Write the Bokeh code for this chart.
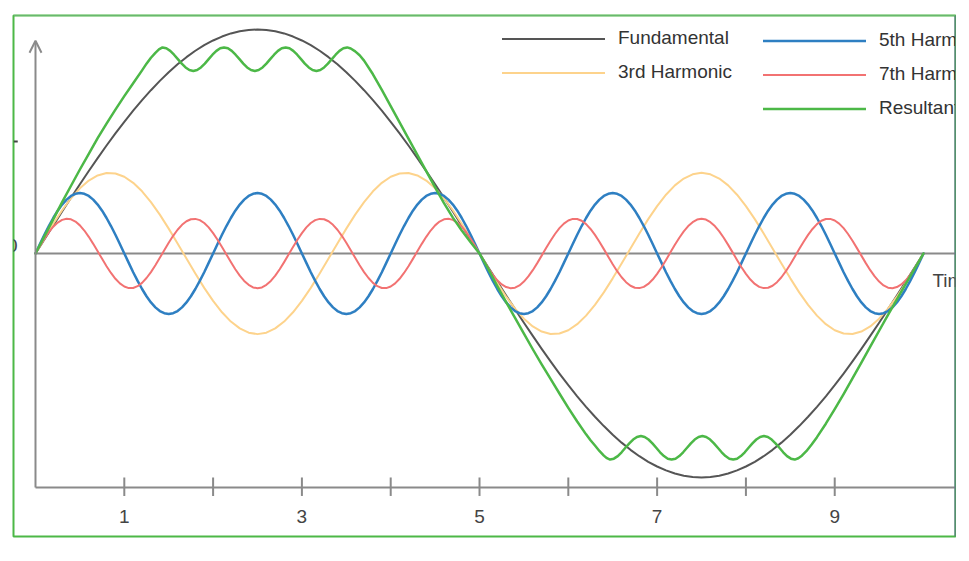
from bokeh.plotting import figure
from bokeh.models import Range1d, Legend, LegendItem, Arrow, OpenHead, Span
from bokeh.core.properties import value
from bokeh.embed import file_html
from bokeh.resources import INLINE

# ---------------- data ----------------
# time axis, step 0.1 (fundamental, 3rd harmonic)
TIME = [
    0.0, 0.1, 0.2, 0.3, 0.4, 0.5, 0.6, 0.7, 0.8, 0.9,
    1.0, 1.1, 1.2, 1.3, 1.4, 1.5, 1.6, 1.7, 1.8, 1.9,
    2.0, 2.1, 2.2, 2.3, 2.4, 2.5, 2.6, 2.7, 2.8, 2.9,
    3.0, 3.1, 3.2, 3.3, 3.4, 3.5, 3.6, 3.7, 3.8, 3.9,
    4.0, 4.1, 4.2, 4.3, 4.4, 4.5, 4.6, 4.7, 4.8, 4.9,
    5.0, 5.1, 5.2, 5.3, 5.4, 5.5, 5.6, 5.7, 5.8, 5.9,
    6.0, 6.1, 6.2, 6.3, 6.4, 6.5, 6.6, 6.7, 6.8, 6.9,
    7.0, 7.1, 7.2, 7.3, 7.4, 7.5, 7.6, 7.7, 7.8, 7.9,
    8.0, 8.1, 8.2, 8.3, 8.4, 8.5, 8.6, 8.7, 8.8, 8.9,
    9.0, 9.1, 9.2, 9.3, 9.4, 9.5, 9.6, 9.7, 9.8, 9.9,
    10.0,
]

FUNDAMENTAL = [
    0.000, 0.126, 0.251, 0.375, 0.497, 0.618, 0.736, 0.852, 0.964, 1.072,
    1.176, 1.275, 1.369, 1.458, 1.541, 1.618, 1.689, 1.753, 1.810, 1.860,
    1.902, 1.937, 1.965, 1.984, 1.996, 2.000, 1.996, 1.984, 1.965, 1.937,
    1.902, 1.860, 1.810, 1.753, 1.689, 1.618, 1.541, 1.458, 1.369, 1.275,
    1.176, 1.072, 0.964, 0.852, 0.736, 0.618, 0.497, 0.375, 0.251, 0.126,
    0.000, -0.126, -0.251, -0.375, -0.497, -0.618, -0.736, -0.852, -0.964, -1.072,
    -1.176, -1.275, -1.369, -1.458, -1.541, -1.618, -1.689, -1.753, -1.810, -1.860,
    -1.902, -1.937, -1.965, -1.984, -1.996, -2.000, -1.996, -1.984, -1.965, -1.937,
    -1.902, -1.860, -1.810, -1.753, -1.689, -1.618, -1.541, -1.458, -1.369, -1.275,
    -1.176, -1.072, -0.964, -0.852, -0.736, -0.618, -0.497, -0.375, -0.251, -0.126,
    0.000,
]

HARMONIC_3 = [
    0.000, 0.135, 0.265, 0.386, 0.493, 0.582, 0.651, 0.697, 0.719, 0.714,
    0.685, 0.631, 0.555, 0.459, 0.347, 0.222, 0.090, -0.045, -0.179, -0.307,
    -0.423, -0.525, -0.608, -0.669, -0.707, -0.720, -0.707, -0.669, -0.608, -0.525,
    -0.423, -0.307, -0.179, -0.045, 0.090, 0.222, 0.347, 0.459, 0.555, 0.631,
    0.685, 0.714, 0.719, 0.697, 0.651, 0.582, 0.493, 0.386, 0.265, 0.135,
    0.000, -0.135, -0.265, -0.386, -0.493, -0.582, -0.651, -0.697, -0.719, -0.714,
    -0.685, -0.631, -0.555, -0.459, -0.347, -0.222, -0.090, 0.045, 0.179, 0.307,
    0.423, 0.525, 0.608, 0.669, 0.707, 0.720, 0.707, 0.669, 0.608, 0.525,
    0.423, 0.307, 0.179, 0.045, -0.090, -0.222, -0.347, -0.459, -0.555, -0.631,
    -0.685, -0.714, -0.719, -0.697, -0.651, -0.582, -0.493, -0.386, -0.265, -0.135,
    0.000,
]

# time axis, step 0.05 (5th and 7th harmonics)
TIME_FINE = [
    0.00, 0.05, 0.10, 0.15, 0.20, 0.25, 0.30, 0.35, 0.40, 0.45,
    0.50, 0.55, 0.60, 0.65, 0.70, 0.75, 0.80, 0.85, 0.90, 0.95,
    1.00, 1.05, 1.10, 1.15, 1.20, 1.25, 1.30, 1.35, 1.40, 1.45,
    1.50, 1.55, 1.60, 1.65, 1.70, 1.75, 1.80, 1.85, 1.90, 1.95,
    2.00, 2.05, 2.10, 2.15, 2.20, 2.25, 2.30, 2.35, 2.40, 2.45,
    2.50, 2.55, 2.60, 2.65, 2.70, 2.75, 2.80, 2.85, 2.90, 2.95,
    3.00, 3.05, 3.10, 3.15, 3.20, 3.25, 3.30, 3.35, 3.40, 3.45,
    3.50, 3.55, 3.60, 3.65, 3.70, 3.75, 3.80, 3.85, 3.90, 3.95,
    4.00, 4.05, 4.10, 4.15, 4.20, 4.25, 4.30, 4.35, 4.40, 4.45,
    4.50, 4.55, 4.60, 4.65, 4.70, 4.75, 4.80, 4.85, 4.90, 4.95,
    5.00, 5.05, 5.10, 5.15, 5.20, 5.25, 5.30, 5.35, 5.40, 5.45,
    5.50, 5.55, 5.60, 5.65, 5.70, 5.75, 5.80, 5.85, 5.90, 5.95,
    6.00, 6.05, 6.10, 6.15, 6.20, 6.25, 6.30, 6.35, 6.40, 6.45,
    6.50, 6.55, 6.60, 6.65, 6.70, 6.75, 6.80, 6.85, 6.90, 6.95,
    7.00, 7.05, 7.10, 7.15, 7.20, 7.25, 7.30, 7.35, 7.40, 7.45,
    7.50, 7.55, 7.60, 7.65, 7.70, 7.75, 7.80, 7.85, 7.90, 7.95,
    8.00, 8.05, 8.10, 8.15, 8.20, 8.25, 8.30, 8.35, 8.40, 8.45,
    8.50, 8.55, 8.60, 8.65, 8.70, 8.75, 8.80, 8.85, 8.90, 8.95,
    9.00, 9.05, 9.10, 9.15, 9.20, 9.25, 9.30, 9.35, 9.40, 9.45,
    9.50, 9.55, 9.60, 9.65, 9.70, 9.75, 9.80, 9.85, 9.90, 9.95,
    10.00,
]

HARMONIC_5 = [
    0.000, 0.084, 0.167, 0.245, 0.317, 0.382, 0.437, 0.481, 0.514, 0.533,
    0.540, 0.533, 0.514, 0.481, 0.437, 0.382, 0.317, 0.245, 0.167, 0.084,
    0.000, -0.084, -0.167, -0.245, -0.317, -0.382, -0.437, -0.481, -0.514, -0.533,
    -0.540, -0.533, -0.514, -0.481, -0.437, -0.382, -0.317, -0.245, -0.167, -0.084,
    0.000, 0.084, 0.167, 0.245, 0.317, 0.382, 0.437, 0.481, 0.514, 0.533,
    0.540, 0.533, 0.514, 0.481, 0.437, 0.382, 0.317, 0.245, 0.167, 0.084,
    0.000, -0.084, -0.167, -0.245, -0.317, -0.382, -0.437, -0.481, -0.514, -0.533,
    -0.540, -0.533, -0.514, -0.481, -0.437, -0.382, -0.317, -0.245, -0.167, -0.084,
    0.000, 0.084, 0.167, 0.245, 0.317, 0.382, 0.437, 0.481, 0.514, 0.533,
    0.540, 0.533, 0.514, 0.481, 0.437, 0.382, 0.317, 0.245, 0.167, 0.084,
    0.000, -0.084, -0.167, -0.245, -0.317, -0.382, -0.437, -0.481, -0.514, -0.533,
    -0.540, -0.533, -0.514, -0.481, -0.437, -0.382, -0.317, -0.245, -0.167, -0.084,
    0.000, 0.084, 0.167, 0.245, 0.317, 0.382, 0.437, 0.481, 0.514, 0.533,
    0.540, 0.533, 0.514, 0.481, 0.437, 0.382, 0.317, 0.245, 0.167, 0.084,
    0.000, -0.084, -0.167, -0.245, -0.317, -0.382, -0.437, -0.481, -0.514, -0.533,
    -0.540, -0.533, -0.514, -0.481, -0.437, -0.382, -0.317, -0.245, -0.167, -0.084,
    0.000, 0.084, 0.167, 0.245, 0.317, 0.382, 0.437, 0.481, 0.514, 0.533,
    0.540, 0.533, 0.514, 0.481, 0.437, 0.382, 0.317, 0.245, 0.167, 0.084,
    0.000, -0.084, -0.167, -0.245, -0.317, -0.382, -0.437, -0.481, -0.514, -0.533,
    -0.540, -0.533, -0.514, -0.481, -0.437, -0.382, -0.317, -0.245, -0.167, -0.084,
    0.000,
]

HARMONIC_7 = [
    0.000, 0.068, 0.132, 0.190, 0.239, 0.276, 0.300, 0.310, 0.305, 0.285,
    0.251, 0.205, 0.149, 0.086, 0.019, -0.048, -0.114, -0.174, -0.226, -0.267,
    -0.295, -0.309, -0.308, -0.292, -0.262, -0.219, -0.166, -0.105, -0.039, 0.029,
    0.096, 0.158, 0.212, 0.256, 0.288, 0.306, 0.309, 0.298, 0.272, 0.233,
    0.182, 0.123, 0.058, -0.010, -0.077, -0.141, -0.198, -0.245, -0.280, -0.303,
    -0.310, -0.303, -0.280, -0.245, -0.198, -0.141, -0.077, -0.010, 0.058, 0.123,
    0.182, 0.233, 0.272, 0.298, 0.309, 0.306, 0.288, 0.256, 0.212, 0.158,
    0.096, 0.029, -0.039, -0.105, -0.166, -0.219, -0.262, -0.292, -0.308, -0.309,
    -0.295, -0.267, -0.226, -0.174, -0.114, -0.048, 0.019, 0.086, 0.149, 0.205,
    0.251, 0.285, 0.305, 0.310, 0.300, 0.276, 0.239, 0.190, 0.132, 0.068,
    0.000, -0.068, -0.132, -0.190, -0.239, -0.276, -0.300, -0.310, -0.305, -0.285,
    -0.251, -0.205, -0.149, -0.086, -0.019, 0.048, 0.114, 0.174, 0.226, 0.267,
    0.295, 0.309, 0.308, 0.292, 0.262, 0.219, 0.166, 0.105, 0.039, -0.029,
    -0.096, -0.158, -0.212, -0.256, -0.288, -0.306, -0.309, -0.298, -0.272, -0.233,
    -0.182, -0.123, -0.058, 0.010, 0.077, 0.141, 0.198, 0.245, 0.280, 0.303,
    0.310, 0.303, 0.280, 0.245, 0.198, 0.141, 0.077, 0.010, -0.058, -0.123,
    -0.182, -0.233, -0.272, -0.298, -0.309, -0.306, -0.288, -0.256, -0.212, -0.158,
    -0.096, -0.029, 0.039, 0.105, 0.166, 0.219, 0.262, 0.292, 0.308, 0.309,
    0.295, 0.267, 0.226, 0.174, 0.114, 0.048, -0.019, -0.086, -0.149, -0.205,
    -0.251, -0.285, -0.305, -0.310, -0.300, -0.276, -0.239, -0.190, -0.132, -0.068,
    0.000,
]

RESULT_TIME = [
    # rise
    0.00, 0.10, 0.20, 0.30, 0.40, 0.50, 0.60, 0.70, 0.80, 0.90,
    1.00, 1.10, 1.20, 1.25, 1.30, 1.35, 1.39,
    # ripple on the positive plateau
    1.430, 1.473, 1.517, 1.560, 1.603, 1.647, 1.690, 1.733,
    1.777, 1.820, 1.863, 1.907, 1.950, 1.993, 2.037, 2.080,
    2.123, 2.167, 2.210, 2.253, 2.297, 2.340, 2.383, 2.427,
    2.470, 2.513, 2.557, 2.600, 2.643, 2.687, 2.730, 2.773,
    2.817, 2.860, 2.903, 2.947, 2.990, 3.033, 3.077, 3.120,
    3.163, 3.207, 3.250, 3.293, 3.337, 3.380, 3.423, 3.467,
    3.510,
    # fall
    3.55, 3.60, 3.65, 3.70, 3.80, 3.90, 4.00, 4.10, 4.20, 4.30,
    4.40, 4.50, 4.60, 4.70, 4.80, 4.90, 5.00, 5.10, 5.20, 5.30,
    5.40, 5.50, 5.60, 5.70, 5.80, 5.90, 6.00, 6.10, 6.20, 6.25,
    6.30, 6.35, 6.40, 6.435,
    # ripple on the negative plateau
    6.470, 6.513, 6.557, 6.600, 6.643, 6.687, 6.730, 6.773,
    6.817, 6.860, 6.903, 6.947, 6.990, 7.033, 7.077, 7.120,
    7.163, 7.207, 7.250, 7.293, 7.337, 7.380, 7.423, 7.467,
    7.510, 7.553, 7.597, 7.640, 7.683, 7.727, 7.770, 7.813,
    7.857, 7.900, 7.943, 7.987, 8.030, 8.073, 8.117, 8.160,
    8.203, 8.247, 8.290, 8.333, 8.377, 8.420, 8.463, 8.507,
    8.550,
    # rise back to zero
    8.59, 8.63, 8.68, 8.74, 8.80, 8.90, 9.00, 9.10, 9.20, 9.30,
    9.40, 9.50, 9.60, 9.70, 9.80, 9.90, 10.00,
]

RESULTANT = [
    0.000, 0.153, 0.305, 0.458, 0.605, 0.750, 0.890, 1.030, 1.160, 1.285,
    1.405, 1.520, 1.635, 1.695, 1.748, 1.792, 1.822,
    1.840, 1.832, 1.809, 1.775, 1.735, 1.695, 1.661, 1.638,
    1.630, 1.638, 1.661, 1.695, 1.735, 1.775, 1.809, 1.832,
    1.840, 1.832, 1.809, 1.775, 1.735, 1.695, 1.661, 1.638,
    1.630, 1.638, 1.661, 1.695, 1.735, 1.775, 1.809, 1.832,
    1.840, 1.832, 1.809, 1.775, 1.735, 1.695, 1.661, 1.638,
    1.630, 1.638, 1.661, 1.695, 1.735, 1.775, 1.809, 1.832,
    1.840,
    1.830, 1.805, 1.770, 1.722, 1.600, 1.460, 1.315, 1.170, 1.025, 0.880,
    0.735, 0.590, 0.450, 0.320, 0.205, 0.100, 0.000, -0.140, -0.290, -0.435,
    -0.575, -0.715, -0.855, -0.990, -1.120, -1.250, -1.378, -1.500, -1.615, -1.668,
    -1.715, -1.763, -1.805, -1.828,
    -1.840, -1.832, -1.809, -1.775, -1.735, -1.695, -1.661, -1.638,
    -1.630, -1.638, -1.661, -1.695, -1.735, -1.775, -1.809, -1.832,
    -1.840, -1.832, -1.809, -1.775, -1.735, -1.695, -1.661, -1.638,
    -1.630, -1.638, -1.661, -1.695, -1.735, -1.775, -1.809, -1.832,
    -1.840, -1.832, -1.809, -1.775, -1.735, -1.695, -1.661, -1.638,
    -1.630, -1.638, -1.661, -1.695, -1.735, -1.775, -1.809, -1.832,
    -1.840,
    -1.828, -1.805, -1.765, -1.705, -1.640, -1.520, -1.390, -1.255, -1.115, -0.975,
    -0.832, -0.690, -0.548, -0.410, -0.272, -0.136, 0.000,
]

SERIES_NAMES = ["Fundamental", "3rd Harmonic", "5th Harmonic", "7th Harmonic", "Resultant"]
X_TICKS = [1, 2, 3, 4, 5, 6, 7, 8, 9]
X_LABEL_POS = [1, 3, 5, 7, 9]
X_LABELS = ["1", "3", "5", "7", "9"]
Y_LABEL_POS = [0]
Y_LABELS = ["0"]
Y_TICK_POS = [1]
X_TITLE = ["Time"]

# ---------------- styling ----------------
C_FUND = "#555555"
C_H3 = "#fdd38c"
C_H5 = "#2e7fc2"
C_H7 = "#f27272"
C_RES = "#4cb847"
C_AXIS = "#8a8a8a"
C_TEXT = "#444444"
FONT = "Liberation Sans"

X_START, X_END = -0.2477, 10.36
Y_START, Y_END = -2.527, 2.125
AXIS_Y = -2.09

p = figure(
    width=956, height=545,
    x_range=Range1d(X_START, X_END), y_range=Range1d(Y_START, Y_END),
    x_axis_location=None, y_axis_location=None,
    toolbar_location=None, output_backend="svg",
    min_border_left=13, min_border_right=1, min_border_top=15, min_border_bottom=9,
    background_fill_color="white", border_fill_color="white",
    outline_line_color=C_RES, outline_line_width=2,
)
p.grid.visible = False

# axes drawn inside the frame
p.segment(x0=0, y0=0, x1=X_END, y1=0, line_color=C_AXIS, line_width=2)
p.segment(x0=0, y0=AXIS_Y, x1=X_END, y1=AXIS_Y, line_color=C_AXIS, line_width=2)
p.segment(x0=X_TICKS, y0=AXIS_Y - 0.075, x1=X_TICKS, y1=AXIS_Y + 0.09,
          line_color=C_AXIS, line_width=2)
p.add_layout(Arrow(end=OpenHead(size=12, line_color=C_AXIS, line_width=2),
                   x_start=0, y_start=AXIS_Y, x_end=0, y_end=1.90,
                   line_color=C_AXIS, line_width=2))
p.text(x=X_LABEL_POS, y=-2.40, text=X_LABELS, text_align="center",
       text_baseline="alphabetic", text_font=value(FONT), text_font_size="19px",
       text_color=C_TEXT, y_offset=-6)
p.text(x=[10.10], y=[-0.30], text=X_TITLE, text_align="left",
       text_baseline="alphabetic", text_font=value(FONT), text_font_size="19px",
       text_color=C_TEXT, y_offset=-7)
p.text(x=[-0.203], y=Y_LABEL_POS, text=Y_LABELS, text_align="right",
       text_baseline="alphabetic", text_font=value(FONT), text_font_size="19px",
       text_color=C_TEXT, y_offset=-8)
p.segment(x0=X_START, y0=Y_TICK_POS, x1=-0.20, y1=Y_TICK_POS, line_color=C_TEXT, line_width=2)

# series
kw = dict(line_join="round", line_cap="round")
r_f = p.line(TIME, FUNDAMENTAL, line_color=C_FUND, line_width=2, **kw)
r_3 = p.line(TIME, HARMONIC_3, line_color=C_H3, line_width=2, **kw)
r_5 = p.line(TIME_FINE, HARMONIC_5, line_color=C_H5, line_width=2.5, **kw)
r_7 = p.line(TIME_FINE, HARMONIC_7, line_color=C_H7, line_width=2, **kw)
r_r = p.line(RESULT_TIME, RESULTANT, line_color=C_RES, line_width=2.5, **kw)

# borders (right / top tint)
p.add_layout(Span(location=X_END, dimension="height", line_color="#5d6c90", line_width=2))
p.add_layout(Span(location=Y_END, dimension="width", line_color="#86b596", line_width=1))

leg_kw = dict(orientation="vertical", glyph_width=103, glyph_height=21, spacing=12,
              label_standoff=13, padding=0, margin=0, border_line_color=None,
              background_fill_alpha=0, label_text_font=FONT, label_text_font_size="19px",
              label_text_color="#333333")
leg_a = Legend(items=[LegendItem(label=SERIES_NAMES[0], renderers=[r_f]),
                      LegendItem(label=SERIES_NAMES[1], renderers=[r_3])],
               location=(489, 453), **leg_kw)
leg_b = Legend(items=[LegendItem(label=SERIES_NAMES[2], renderers=[r_5]),
                      LegendItem(label=SERIES_NAMES[3], renderers=[r_7]),
                      LegendItem(label=SERIES_NAMES[4], renderers=[r_r])],
               location=(750, 417), **leg_kw)
p.add_layout(leg_a)
p.add_layout(leg_b)

open("out.html", "w").write(file_html(p, INLINE))
